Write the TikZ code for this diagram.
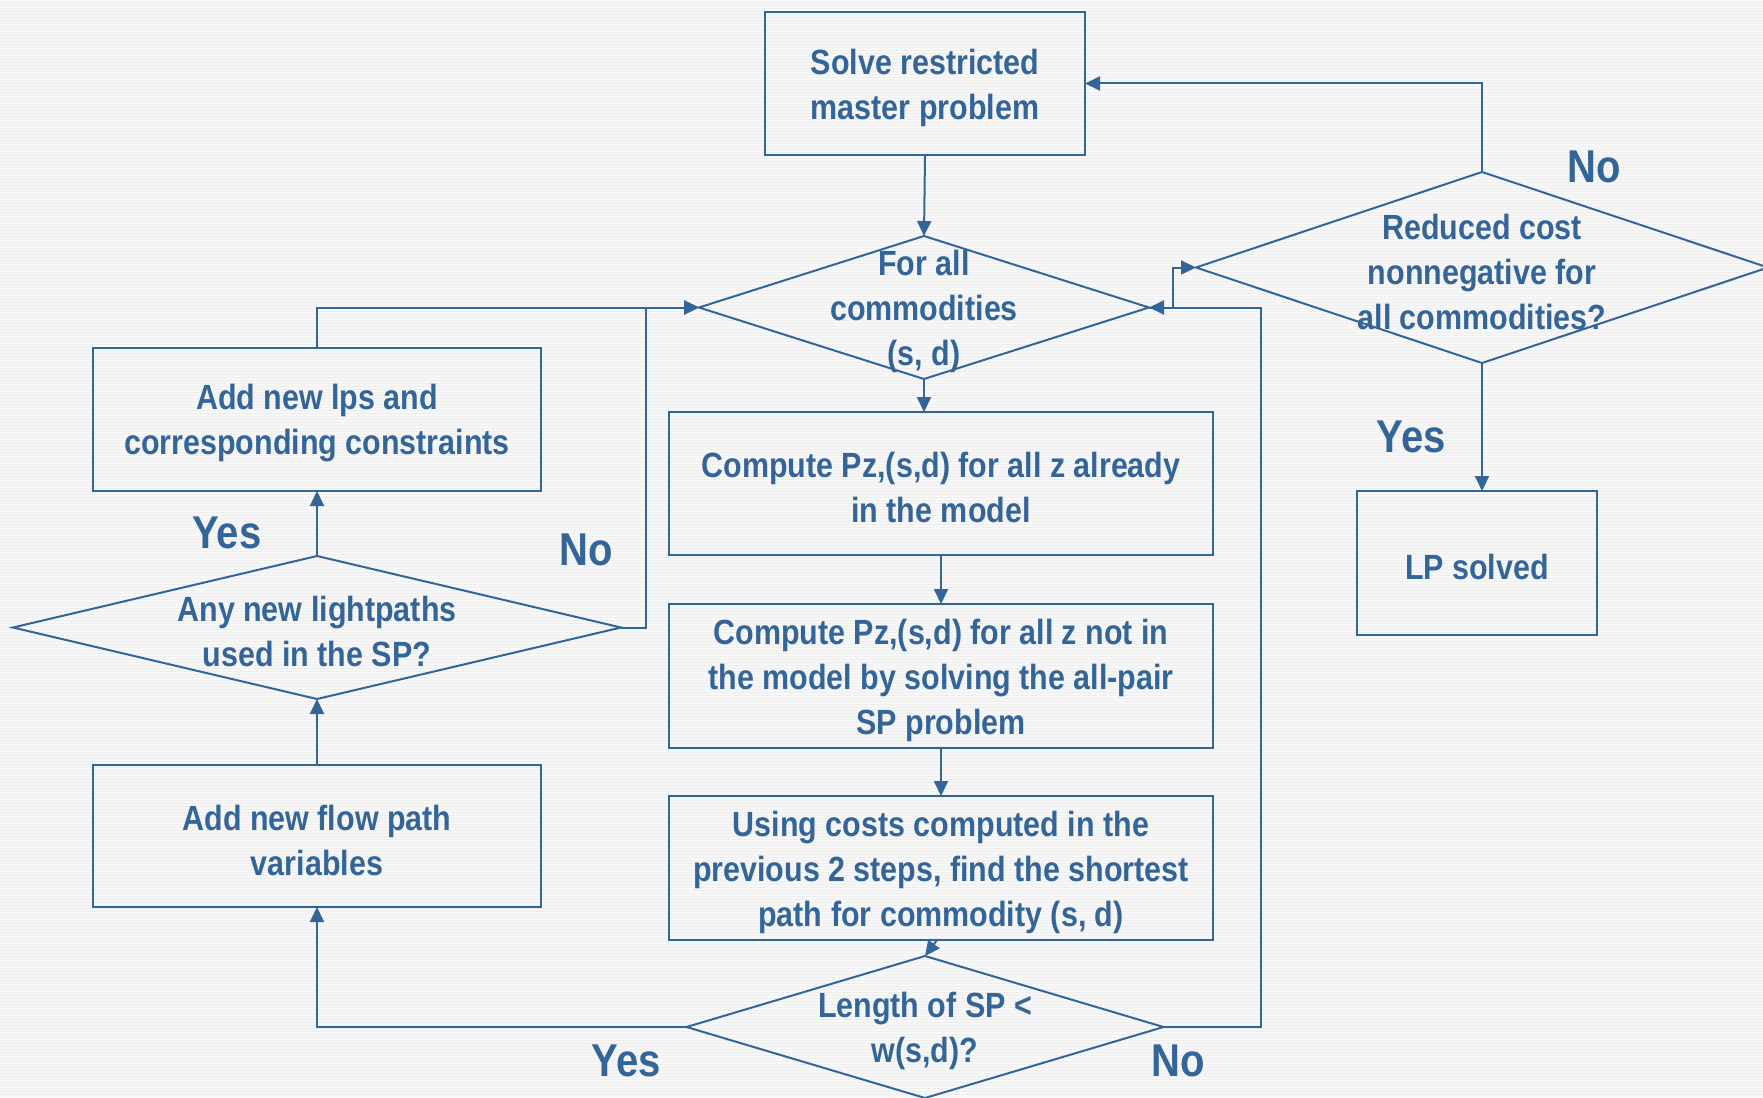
\documentclass[tikz,border=0pt]{standalone}
\usepackage{fontspec}
\setmainfont{Liberation Sans}[FakeStretch=0.87]
\usetikzlibrary{shapes.geometric,arrows.meta}
\definecolor{fb}{RGB}{52,101,153}
\definecolor{bg}{RGB}{238,238,238}
\definecolor{bgl}{RGB}{247,247,247}
\begin{document}
\begin{tikzpicture}[x=1pt,y=-1pt,
  txt/.style={font=\bfseries\fontsize{35}{45}\selectfont, text=fb, align=center, inner sep=0pt, yshift=-4pt},
  lbl/.style={font=\bfseries\fontsize{46}{50}\selectfont, text=fb, inner sep=0pt},
  procbox/.style={draw=fb, line width=2pt, inner sep=0pt, outer sep=0pt},
  decis/.style={draw=fb, line width=2pt, diamond, inner sep=0pt, outer sep=0pt},
  conn/.style={draw=fb, line width=2pt},
  arr/.style={conn, -{Triangle[length=15pt,width=14pt]}}]
\useasboundingbox (0,0) rectangle (1763,1097);
\fill[bg] (0,0) rectangle (1763,1097);
\foreach \yy in {1,4,...,1097} \draw[bgl, line width=1.2pt] (0,\yy) -- (1763,\yy);

% boxes
\node[procbox, minimum width=320pt, minimum height=143pt] (A) at (925,83.5) {};
\node[txt] (At) at (A.center) {Solve restricted\\master problem};
\node[procbox, minimum width=544pt, minimum height=143pt] (D) at (941,483.5) {};
\node[txt] (Dt) at (D.center) {Compute Pz,(s,d) for all z already\\in the model};
\node[procbox, minimum width=544pt, minimum height=144pt] (E) at (941,676) {};
\node[txt] (Et) at (E.center) {Compute Pz,(s,d) for all z not in\\the model by solving the all-pair\\SP problem};
\node[procbox, minimum width=544pt, minimum height=144pt] (F) at (941,868) {};
\node[txt] (Ft) at (F.center) {Using costs computed in the\\previous 2 steps, find the shortest\\path for commodity (s, d)};
\node[procbox, minimum width=448pt, minimum height=142pt] (H) at (317,836) {};
\node[txt] (Ht) at (H.center) {Add new flow path\\variables};
\node[procbox, minimum width=448pt, minimum height=143pt] (J) at (317,419.5) {};
\node[txt] (Jt) at (J.center) {Add new lps and\\corresponding constraints};
\node[procbox, minimum width=240pt, minimum height=144pt] (LP) at (1477,563) {};
\node[txt] (LPt) at (LP.center) {LP solved};

% decisions
\node[decis, minimum width=450pt, minimum height=143pt] (B) at (924,307.5) {};
\node[txt] (Bt) at (B.center) {For all\\commodities\\(s, d)};
\node[decis, minimum width=572pt, minimum height=191pt] (C) at (1482,267.5) {};
\node[txt] (Ct) at (C.center) {Reduced cost\\nonnegative for\\all commodities?};
\node[decis, minimum width=477pt, minimum height=142pt] (G) at (925,1027) {};
\node[txt] (Gt) at (G.center) {Length of SP <\\w(s,d)?};
\node[decis, minimum width=608pt, minimum height=143pt] (I) at (317,627.5) {};
\node[txt] (It) at (I.center) {Any new lightpaths\\used in the SP?};

% labels
\node[lbl] (noC) at (1594,167) {No};
\node[lbl] (yesC) at (1411,437) {Yes};
\node[lbl] (yesI) at (227,533) {Yes};
\node[lbl] (noI) at (586,550) {No};
\node[lbl] (yesG) at (626,1061) {Yes};
\node[lbl] (noG) at (1178,1061) {No};

% helper coordinates
\coordinate (rNo) at (1261,307.5);
\coordinate (bc) at (1173,307.5);
\coordinate (lNo) at (646,307.5);

% connectors
\draw[arr] (A.south) -- (B.north);
\draw[arr] (B.south) -- (B.south |- D.north);
\draw[arr] (D.south) -- (E.north);
\draw[arr] (E.south) -- (F.north);
\draw[arr] ([xshift=-4pt]F.south) -- (G.north);
\draw[arr] (G.east) -| (rNo) -- (B.east);
\draw[arr] (B.east) -- (bc) |- (C.west);
\draw[arr] (C.north) |- (A.east);
\draw[arr] (C.south) -- (C.south |- LP.north);
\draw[arr] (G.west) -| (H.south);
\draw[arr] (H.north) -- (I.south);
\draw[arr] (I.north) -- (J.south);
\draw[arr] (I.east) -| (lNo) -- (B.west);
\draw[arr] (J.north) |- (B.west);
\end{tikzpicture}
\end{document}
